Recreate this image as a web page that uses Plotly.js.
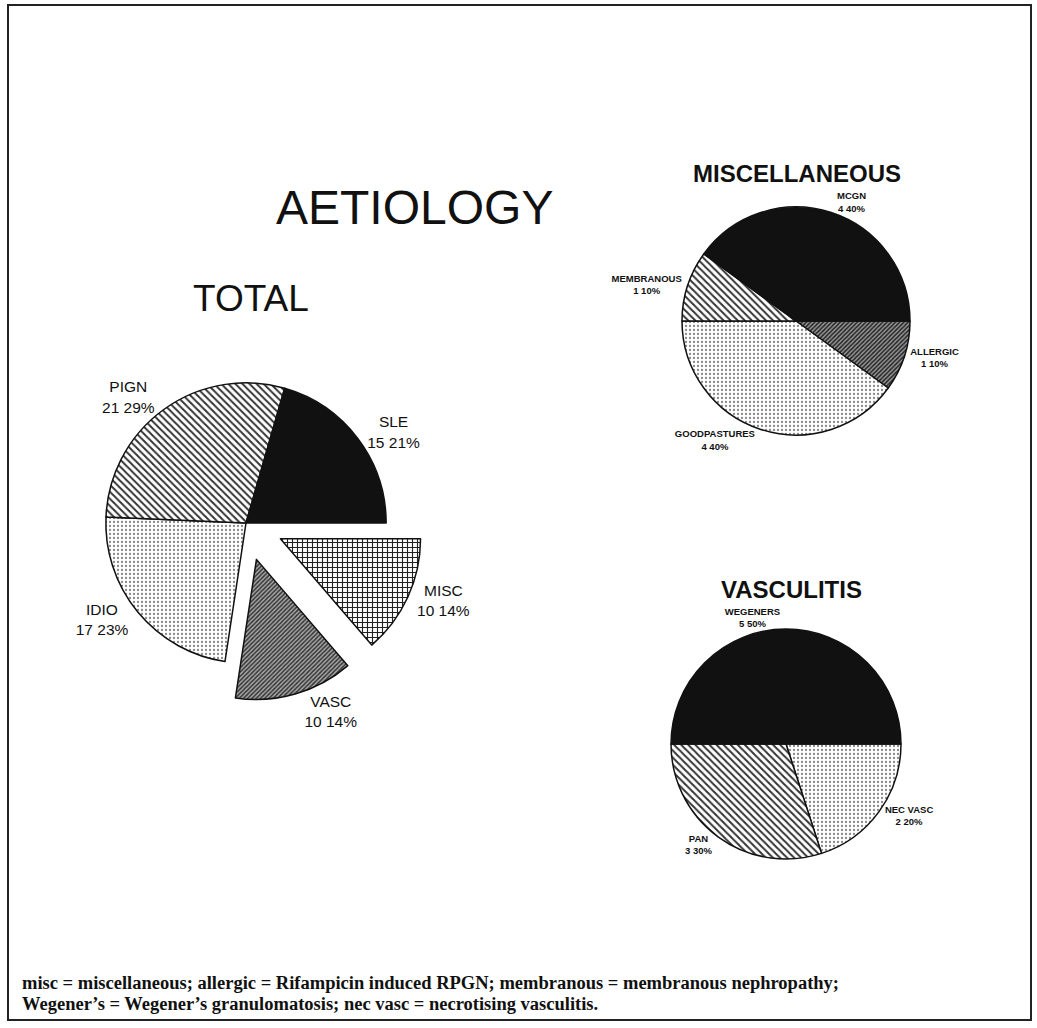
<!DOCTYPE html>
<html>
<head>
<meta charset="utf-8">
<script src="https://cdn.plot.ly/plotly-3.0.1.min.js"></script>
<style>html,body{margin:0;padding:0;background:#fff;}</style>
</head>
<body>
<div id="chart" style="width:1037px;height:1028px;"></div>
<script>
// ---- data (listed counterclockwise from 3 o'clock) ----
var totalLabels = ['SLE', 'PIGN', 'IDIO', 'VASC', 'MISC'];
var totalValues = [15, 21, 17, 10, 10];
var miscLabels = ['MCGN', 'MEMBRANOUS', 'GOODPASTURES', 'ALLERGIC'];
var miscValues = [4, 1, 4, 1];
var vascLabels = ['WEGENERS', 'PAN', 'NEC VASC'];
var vascValues = [5, 3, 2];
var mainTitle = 'AETIOLOGY';
var totalTitle = 'TOTAL';
var miscTitle = 'MISCELLANEOUS';
var vascTitle = 'VASCULITIS';
var footnote1 = 'misc = miscellaneous; allergic = Rifampicin induced RPGN; membranous = membranous nephropathy;';
var footnote2 = 'Wegener\u2019s = Wegener\u2019s granulomatosis; nec vasc = necrotising vasculitis.';

// ---- helpers ----
var W = 1037, H = 1028;
function px(x) { return x / W; }
function py(y) { return 1 - y / H; }
function rev(a) { return a.slice().reverse(); }

var lineStyle = {color: '#111', width: 1.5};
var tmpl = '%{label}<br>%{value} %{percent:.0%}';

// styles per slice, in the same (counterclockwise) order as the data
var totalStyle = {
  colors: ['#111', '#fff', '#fff', '#999', '#fff'],
  shape: ['', '\\', '.', '/', '+'],
  fg: ['#111', '#333', '#888', '#333', '#222'],
  bg: ['#111', '#fff', '#fff', '#aaa', '#fff'],
  size: [8, 5, 4, 3, 5],
  sol: [0.3, 0.4, 0.25, 0.5, 0.4],
  pull: [0, 0, 0, 0.27, 0.27]
};
var miscStyle = {
  colors: ['#111', '#fff', '#fff', '#888'],
  shape: ['', '\\', '.', '/'],
  fg: ['#111', '#333', '#888', '#222'],
  bg: ['#111', '#fff', '#fff', '#999'],
  size: [8, 5, 4, 3],
  sol: [0.3, 0.4, 0.25, 0.5]
};
var vascStyle = {
  colors: ['#111', '#fff', '#fff'],
  shape: ['', '\\', '.'],
  fg: ['#111', '#333', '#888'],
  bg: ['#111', '#fff', '#fff'],
  size: [8, 5, 4],
  sol: [0.3, 0.4, 0.25]
};

// Plotly 'clockwise' starts at the rotation angle; reverse so the
// first listed slice ends at 3 o'clock going counterclockwise.
function makePie(labels, values, st, dom, fontSize, bold) {
  var t = {
    type: 'pie', labels: rev(labels), values: rev(values), sort: false,
    direction: 'clockwise', rotation: 90,
    domain: dom,
    textposition: 'outside', texttemplate: tmpl,
    textfont: {family: 'Liberation Sans, Arial, sans-serif', size: fontSize, color: '#111', weight: bold ? 'bold' : 'normal'},
    marker: {
      colors: rev(st.colors),
      line: lineStyle,
      pattern: {shape: rev(st.shape), fgcolor: rev(st.fg), bgcolor: rev(st.bg), size: rev(st.size), solidity: rev(st.sol)}
    },
    hoverinfo: 'label+value+percent', showlegend: false
  };
  if (st.pull) t.pull = rev(st.pull);
  return t;
}

var totalTrace = makePie(totalLabels, totalValues, totalStyle,
  {x: [px(68), px(424)], y: [py(701), py(345)]}, 15.5, false);
var miscTrace = makePie(miscLabels, miscValues, miscStyle,
  {x: [px(682), px(910)], y: [py(435), py(207)]}, 9.5, true);
var vascTrace = makePie(vascLabels, vascValues, vascStyle,
  {x: [px(671), px(901)], y: [py(859), py(629)]}, 9.5, true);

var titleFont = 'Liberation Sans, Arial, sans-serif';
var serif = 'Liberation Serif, DejaVu Serif, serif';
var layout = {
  width: W, height: H,
  margin: {l: 0, r: 0, t: 0, b: 0},
  paper_bgcolor: '#fff', plot_bgcolor: '#fff',
  showlegend: false,
  shapes: [{
    type: 'rect', xref: 'paper', yref: 'paper',
    x0: px(8), x1: px(1031), y0: py(1020), y1: py(5),
    line: {color: '#222', width: 2}
  }],
  annotations: [
    {text: mainTitle, xref: 'paper', yref: 'paper', x: px(414), y: py(208), xanchor: 'center', yanchor: 'middle',
     showarrow: false, font: {family: titleFont, size: 48, color: '#111'}},
    {text: totalTitle, xref: 'paper', yref: 'paper', x: px(251), y: py(298), xanchor: 'center', yanchor: 'middle',
     showarrow: false, font: {family: titleFont, size: 37, color: '#111'}},
    {text: '<b>' + miscTitle + '</b>', xref: 'paper', yref: 'paper', x: px(797), y: py(173), xanchor: 'center', yanchor: 'middle',
     showarrow: false, font: {family: titleFont, size: 24, color: '#111'}},
    {text: '<b>' + vascTitle + '</b>', xref: 'paper', yref: 'paper', x: px(791), y: py(589), xanchor: 'center', yanchor: 'middle',
     showarrow: false, font: {family: titleFont, size: 24, color: '#111'}},
    {text: '<b>' + footnote1 + '</b>', xref: 'paper', yref: 'paper', x: px(20), y: py(983), xanchor: 'left', yanchor: 'middle',
     showarrow: false, font: {family: serif, size: 18.5, color: '#111'}},
    {text: '<b>' + footnote2 + '</b>', xref: 'paper', yref: 'paper', x: px(20), y: py(1004), xanchor: 'left', yanchor: 'middle',
     showarrow: false, font: {family: serif, size: 18.5, color: '#111'}}
  ]
};

Plotly.newPlot('chart', [totalTrace, miscTrace, vascTrace], layout, {displayModeBar: false, staticPlot: true});
</script>
</body>
</html>
